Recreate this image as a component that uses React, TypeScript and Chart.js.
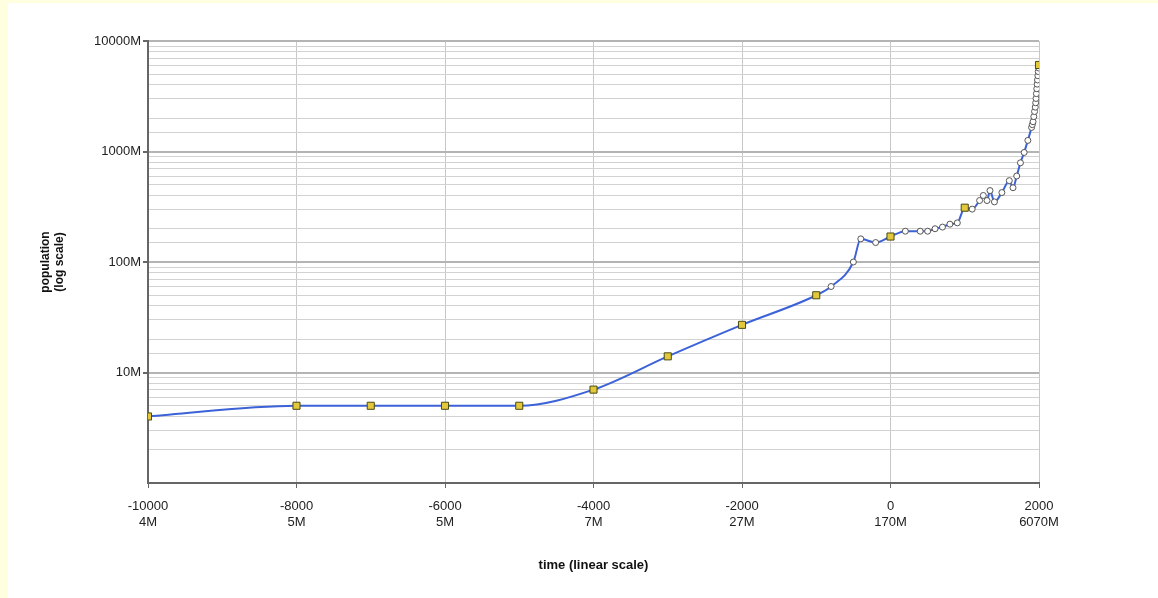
import React, { useEffect, useRef } from "react";
import { Chart, registerables } from "chart.js";

Chart.register(...registerables);

// Year of each estimate
const years = [
  -10000, -8000, -7000, -6000, -5000, -4000, -3000, -2000, -1000, -800, -500, -400, -200,
  0, 200, 400, 500, 600, 700, 800, 900, 1000, 1100, 1200, 1250, 1300, 1340, 1400, 1500,
  1600, 1650, 1700, 1750, 1800, 1850, 1900, 1910, 1920, 1930, 1940, 1950, 1955, 1960,
  1965, 1970, 1975, 1980, 1985, 1990, 1995, 2000,
];
// World population, millions
const populationM = [
  4, 5, 5, 5, 5, 7, 14, 27, 50, 60, 100, 162, 150,
  170, 190, 190, 190, 200, 207, 220, 226, 310, 301, 360, 400, 360, 443, 350, 425,
  545, 470, 600, 790, 980, 1260, 1650, 1750, 1860, 2070, 2300, 2520, 2760, 3020,
  3340, 3700, 4070, 4440, 4850, 5290, 5700, 6070,
];
// Years drawn with a square marker
const milestoneYears = [-10000, -8000, -7000, -6000, -5000, -4000, -3000, -2000, -1000, 0, 1000, 2000];

// Axis tick labels
const xTickYears = [-10000, -8000, -6000, -4000, -2000, 0, 2000];
const xTickPopLabels = ["4M", "5M", "5M", "7M", "27M", "170M", "6070M"];
const yTickValues = [10, 100, 1000, 10000];
const yTickLabels = ["10M", "100M", "1000M", "10000M"];

const FONT = "'Liberation Sans', Arial, sans-serif";
const W = 1158;
const H = 598;

export default function App() {
  const ref = useRef<HTMLCanvasElement | null>(null);

  useEffect(() => {
    if (!ref.current) return;
    const data = years.map((y, i) => ({ x: y, y: populationM[i] }));
    const isMile = (i: number) => milestoneYears.includes(years[i]);
    const majors = [1, 10, 100, 1000, 10000];

    const chart = new Chart(ref.current, {
      type: "line",
      data: {
        datasets: [
          {
            data,
            borderColor: "#3C62D8",
            borderWidth: 2,
            cubicInterpolationMode: "monotone",
            fill: false,
            pointStyle: (c: any) => (isMile(c.dataIndex) ? "rect" : "circle"),
            pointRadius: (c: any) => (isMile(c.dataIndex) ? 5 : 3),
            pointBackgroundColor: (c: any) => (isMile(c.dataIndex) ? "#E2C83A" : "#FFFFFF"),
            pointBorderColor: (c: any) => (isMile(c.dataIndex) ? "#4A4A10" : "#555555"),
            pointBorderWidth: 1,
          } as any,
        ],
      },
      options: {
        responsive: false,
        animation: false,
        events: [],
        layout: { padding: { left: 38, top: 41, right: W - 1039, bottom: 0 } },
        plugins: { legend: { display: false }, tooltip: { enabled: false } },
        scales: {
          x: {
            type: "linear",
            min: -10000,
            max: 2000,
            afterFit: (s: any) => {
              s.height = H - 483;
            },
            border: { display: true, color: "#666666", width: 2 },
            grid: { color: "#C8C8C8", lineWidth: 1, tickLength: 5, tickColor: "#666666" },
            ticks: {
              stepSize: 2000,
              autoSkip: false,
              maxRotation: 0,
              padding: 11,
              color: "#222222",
              font: { family: FONT, size: 13 },
              callback: (v: any) => {
                const i = xTickYears.indexOf(Number(v));
                return i >= 0 ? [String(v), xTickPopLabels[i]] : "";
              },
            },
            title: {
              display: true,
              text: "time (linear scale)",
              color: "#111111",
              font: { family: FONT, size: 13, weight: "bold" },
              padding: { top: 4, bottom: 25 },
            },
          },
          y: {
            type: "logarithmic",
            min: 1,
            max: 10000,
            afterFit: (s: any) => {
              s.width = 148 - 38;
            },
            border: { display: true, color: "#666666", width: 2 },
            grid: {
              color: (c: any) => (majors.includes(c.tick?.value) ? "#B4B4B4" : "#D2D2D2"),
              lineWidth: (c: any) => (majors.includes(c.tick?.value) ? 2 : 1),
              tickLength: 5,
              tickColor: (c: any) =>
                yTickValues.includes(c.tick?.value) ? "#666666" : "rgba(0,0,0,0)",
            },
            ticks: {
              autoSkip: false,
              padding: 2,
              color: "#222222",
              font: { family: FONT, size: 13 },
              callback: (v: any) => {
                const i = yTickValues.indexOf(Number(v));
                return i >= 0 ? yTickLabels[i] : "";
              },
            },
            title: {
              display: true,
              text: ["population", "(log scale)"],
              color: "#111111",
              font: { family: FONT, size: 12, weight: "bold" },
              padding: 0,
            },
          },
        },
      },
    } as any);
    return () => chart.destroy();
  }, []);

  return (
    <div
      style={{
        position: "fixed",
        left: 0,
        top: 0,
        width: W,
        height: H,
        background: "#FFFFE0",
        overflow: "hidden",
      }}
    >
      <div
        style={{ position: "absolute", left: 8, top: 3, right: 0, bottom: 0, background: "#FFFFFF" }}
      />
      <canvas
        ref={ref}
        width={W}
        height={H}
        style={{ position: "absolute", left: 0, top: 0, width: W, height: H }}
      />
    </div>
  );
}
